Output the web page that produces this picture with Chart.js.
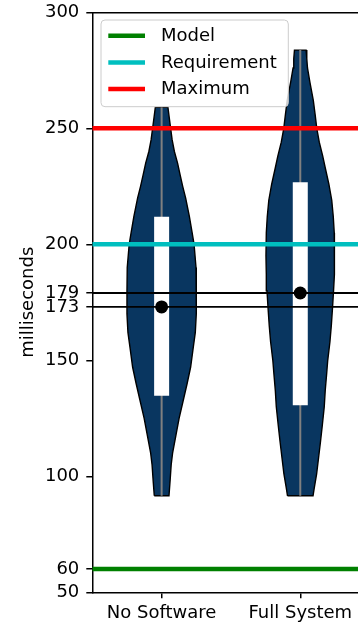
<!DOCTYPE html>
<html><head><meta charset="utf-8">
<script src="https://cdn.jsdelivr.net/npm/chart.js@4/dist/chart.umd.min.js"></script>
<style>html,body{margin:0;padding:0;background:#fff;overflow:hidden;width:358px;height:623px}
#wrap{position:relative;width:400px;height:623px}</style>
</head><body><div id="wrap"><canvas id="c" width="400" height="623"></canvas></div>
<script>
const categories = ['No Software', 'Full System'];
const yTickValues = [50, 60, 100, 150, 173, 179, 200, 250, 300];
const refLabels = ['Model', 'Requirement', 'Maximum'];
const refValues = [60, 200, 250];
const refColors = ['#008000', '#00bfbf', '#ff0000'];
const markerValues = [173, 179];
const noSoftwareLevels = [91.6, 98, 105, 110, 118, 125, 133, 140, 147, 155, 162, 170, 176, 180, 190, 200, 205, 212, 220, 225, 230, 235, 240, 245, 250, 255, 259];
const noSoftwareHalfWidths = [0.053, 0.061, 0.069, 0.079, 0.104, 0.126, 0.157, 0.184, 0.209, 0.227, 0.243, 0.25, 0.25, 0.25, 0.248, 0.234, 0.22, 0.2, 0.173, 0.152, 0.133, 0.115, 0.092, 0.076, 0.065, 0.054, 0.0455];
const fullSystemLevels = [91.6, 95, 101, 108, 115, 122, 130, 137, 144, 150, 158, 165, 173, 180, 187, 195, 205, 212, 219, 226, 233, 238, 244, 250, 256, 262, 270, 276, 280, 283.7];
const fullSystemHalfWidths = [0.092, 0.101, 0.118, 0.132, 0.146, 0.159, 0.173, 0.180, 0.190, 0.198, 0.214, 0.224, 0.233, 0.240, 0.245, 0.2475, 0.245, 0.238, 0.227, 0.206, 0.180, 0.162, 0.137, 0.119, 0.107, 0.094, 0.069, 0.052, 0.047, 0.042];
const q1 = [134.7, 130.6];
const q3 = [211.9, 226.7];
const medians = [173, 179];
const mins = [91.6, 91.6];
const maxs = [259, 283.7];

const FONT = 'DejaVu Sans';
Chart.defaults.font.family = FONT;
Chart.defaults.font.size = 18;
Chart.defaults.color = '#000';

const profiles = [[noSoftwareLevels, noSoftwareHalfWidths], [fullSystemLevels, fullSystemHalfWidths]];
const datasets = [];
profiles.forEach(([lv, hw], i) => {
  const pos = i + 1;
  const pts = lv.map((v, k) => ({x: pos - hw[k], y: v}));
  for (let k = lv.length - 1; k >= 0; k--) pts.push({x: pos + hw[k], y: lv[k]});
  pts.push({x: pts[0].x, y: pts[0].y});
  datasets.push({label: categories[i] + ' violin', data: pts, showLine: true, fill: 'shape',
    backgroundColor: '#093660', borderColor: '#000', borderWidth: 1.4, pointRadius: 0, order: 10});
  datasets.push({label: 'whisker', data: [{x: pos, y: mins[i]}, {x: pos, y: maxs[i]}], showLine: true,
    borderColor: '#808080', borderWidth: 2, pointRadius: 0, order: 9});
  datasets.push({label: 'box', data: [{x: pos, y: q1[i]}, {x: pos, y: q3[i]}], showLine: true,
    borderColor: '#ffffff', borderWidth: 15, borderCapStyle: 'butt', pointRadius: 0, order: 8});
});
refValues.forEach((v, i) => {
  datasets.push({label: refLabels[i], inLegend: true, data: [{x: 0.5, y: v}, {x: 2.5, y: v}], showLine: true,
    borderColor: refColors[i], borderWidth: 4.5, pointRadius: 0, order: 5});
});
markerValues.forEach(v => {
  datasets.push({label: 'marker', data: [{x: 0.5, y: v}, {x: 2.5, y: v}], showLine: true,
    borderColor: '#000', borderWidth: 1.8, pointRadius: 0, order: 4});
});
datasets.push({label: 'median', data: medians.map((m, i) => ({x: i + 1, y: m})), showLine: false,
  pointRadius: 6.5, pointBackgroundColor: '#000', pointBorderWidth: 0, order: 1});

const legendPlugin = {
  id: 'frameLegend',
  afterDraw(chart) {
    const {ctx, chartArea: a} = chart;
    const items = chart.data.datasets.filter(d => d.inLegend);
    const x0 = a.left + 8.7, y0 = a.top + 7.7, w = 187.3, h = 86.7, r = 4;
    ctx.save();
    ctx.beginPath();
    ctx.moveTo(x0 + r, y0);
    ctx.arcTo(x0 + w, y0, x0 + w, y0 + h, r);
    ctx.arcTo(x0 + w, y0 + h, x0, y0 + h, r);
    ctx.arcTo(x0, y0 + h, x0, y0, r);
    ctx.arcTo(x0, y0, x0 + w, y0, r);
    ctx.closePath();
    ctx.fillStyle = 'rgba(255,255,255,0.8)';
    ctx.fill();
    ctx.strokeStyle = '#cccccc';
    ctx.lineWidth = 1;
    ctx.stroke();
    items.forEach((d, i) => {
      const cy = y0 + 15.7 + i * 26.7;
      ctx.strokeStyle = d.borderColor;
      ctx.lineWidth = d.borderWidth;
      ctx.beginPath();
      ctx.moveTo(x0 + 7.3, cy);
      ctx.lineTo(x0 + 44, cy);
      ctx.stroke();
      ctx.fillStyle = '#000';
      ctx.font = '18px "' + FONT + '"';
      ctx.textBaseline = 'middle';
      ctx.textAlign = 'left';
      ctx.fillText(d.label, x0 + 60, cy + 0.7);
    });
    ctx.restore();
  }
};

new Chart(document.getElementById('c'), {
  type: 'scatter',
  data: {datasets},
  plugins: [legendPlugin],
  options: {
    responsive: false,
    animation: false,
    events: [],
    layout: {padding: {top: 12.3, right: 30.4, left: 0, bottom: 0}},
    plugins: {legend: {display: false}, tooltip: {enabled: false}},
    scales: {
      x: {
        type: 'linear', position: 'bottom', min: 0.5, max: 2.5,
        afterBuildTicks: s => { s.ticks = categories.map((c, i) => ({value: i + 1})); },
        afterFit: s => { s.height = 30.7; s.paddingLeft = 0; s.paddingRight = 0; },
        ticks: {autoSkip: false, maxRotation: 0, padding: 4, color: '#000', font: {size: 18},
          callback: v => categories[Math.round(v) - 1]},
        grid: {drawOnChartArea: false, drawTicks: true, tickLength: 6, color: '#000', lineWidth: 1.5},
        border: {display: true, color: '#000', width: 1.5}
      },
      xTop: {
        type: 'linear', position: 'top', min: 0.5, max: 2.5,
        ticks: {display: false},
        grid: {display: false, drawTicks: false},
        border: {display: true, color: '#000', width: 1.5},
        afterFit: s => { s.height = 0; s.paddingLeft = 0; s.paddingRight = 0; }
      },
      y: {
        type: 'linear', position: 'left', min: 50, max: 300,
        afterBuildTicks: s => { s.ticks = yTickValues.map(v => ({value: v})); },
        afterFit: s => { s.width = 92.3; s.paddingTop = 0; s.paddingBottom = 0; },
        ticks: {autoSkip: false, padding: 7, color: '#000', font: {size: 18}, callback: v => String(v)},
        grid: {drawOnChartArea: false, drawTicks: true, tickLength: 6, color: '#000', lineWidth: 1.5},
        border: {display: true, color: '#000', width: 1.5},
        title: {display: true, text: 'milliseconds', color: '#000', font: {size: 18}, padding: {top: 18, bottom: 0}}
      }
    }
  }
});
</script></body></html>
